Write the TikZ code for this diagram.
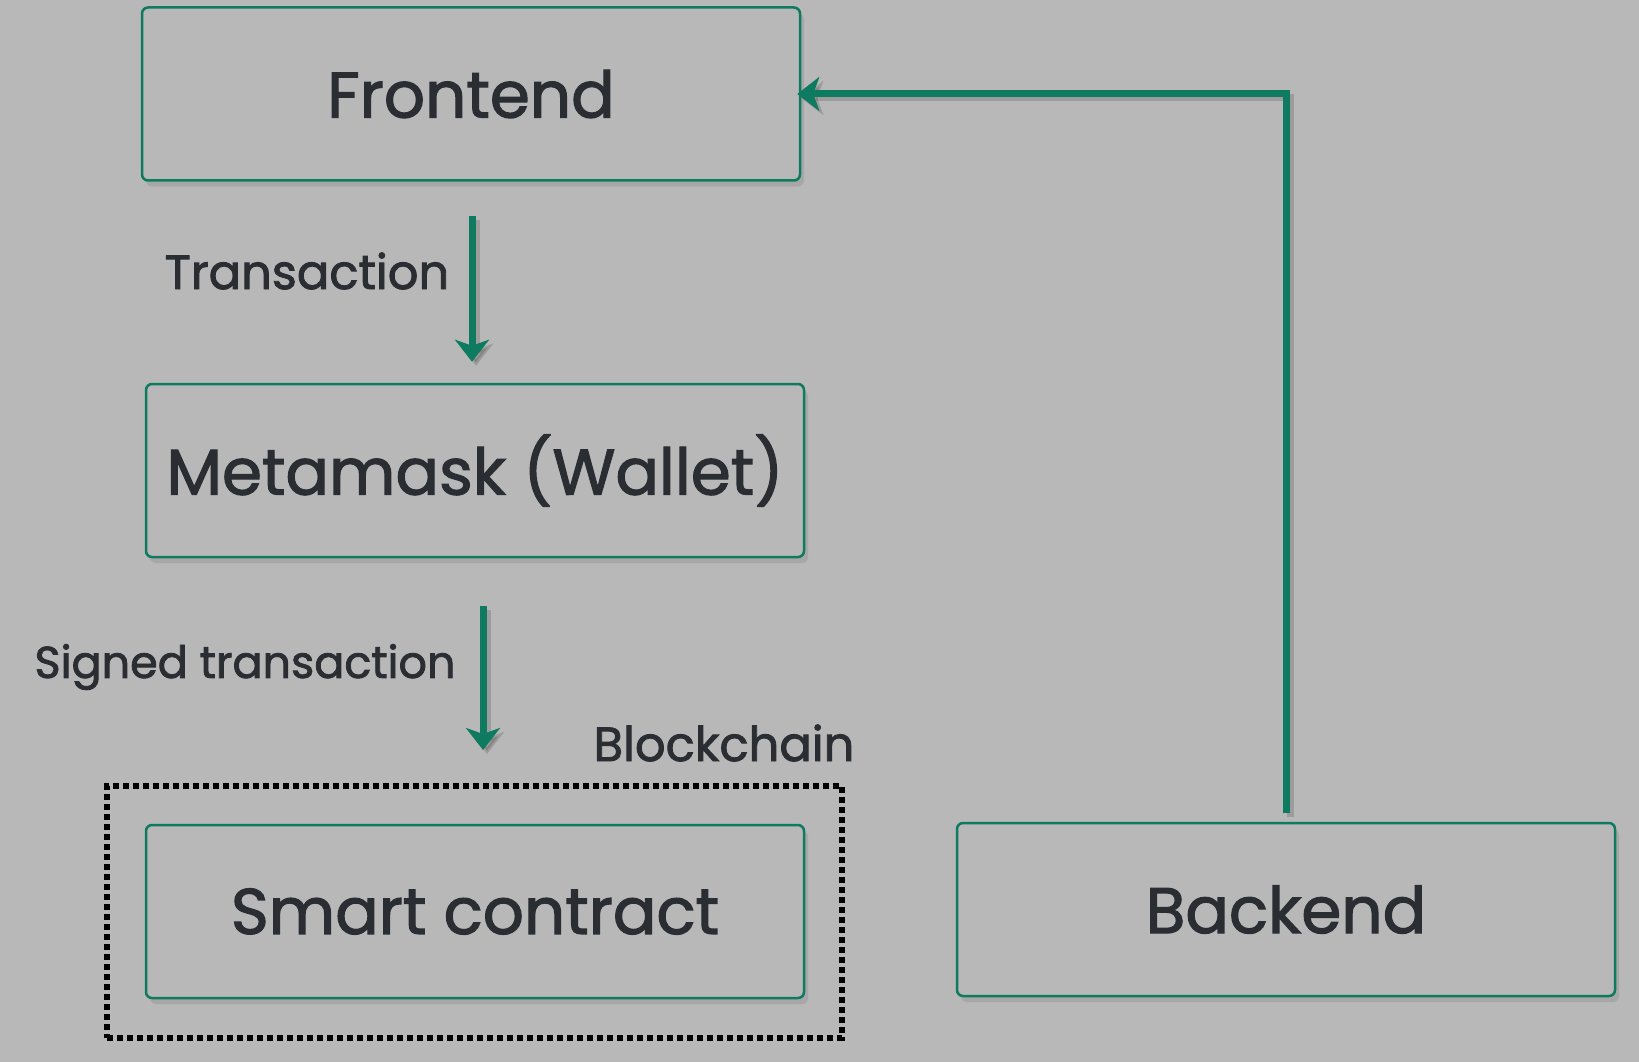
\documentclass[tikz,border=0pt]{standalone}
\usepackage{fontspec}
\setmainfont{Poppins}
\newfontfamily\medfont{Poppins}[FakeBold=1.8]
\usetikzlibrary{shadows,arrows.meta}
\definecolor{bgc}{HTML}{B8B8B8}
\definecolor{grn}{HTML}{0E7A60}
\definecolor{txt}{HTML}{2A2E33}
\begin{document}
\begin{tikzpicture}[x=1pt,y=-1pt,
  box/.style={draw=grn, line width=2.5pt, rounded corners=6pt, fill=bgc,
    minimum width=658pt, minimum height=173pt, inner sep=0pt,
    text=txt, font=\medfont\fontsize{64.5}{76}\selectfont,
    drop shadow={opacity=0.3, shadow xshift=4pt, shadow yshift=-6pt}},
  lbl/.style={text=txt, inner sep=0pt, font=\medfont\fontsize{48}{58}\selectfont},
  flow/.style={draw=grn, line width=7pt,
    -{Stealth[length=22pt, width=34pt, inset=6pt]},
    preaction={draw=black, opacity=0.15, line width=7pt, transform canvas={xshift=4pt, yshift=-4pt}}},
  chainbox/.style={draw=black, line width=6pt, dash pattern=on 6pt off 4pt,
    minimum width=735pt, minimum height=252pt, inner sep=0pt}
]
\fill[bgc] (0,0) rectangle (1639,1062);
\useasboundingbox (0,0) rectangle (1639,1062);

\node[chainbox] (chain) at (474.5,912) {};
\node[box] (front) at (471,94) {Frontend};
\node[box] (meta) at (475,470.5) {Metamask (Wallet)};
\node[box] (smart) at (475,911.5) {Smart contract};
\node[box] (back) at (1286,909.5) {Backend};

\node[lbl] (tlabel) at (307,271) {Transaction};
\node[lbl, font=\medfont\fontsize{44.5}{54}\selectfont] (slabel) at (245,667) {Signed transaction};
\node[lbl] (blabel) at (724,743) {Blockchain};

\draw[flow, shorten <=34pt, shorten >=21pt] ([xshift=1pt]front.south) -- ([xshift=1pt]front.south |- meta.north);
\draw[flow, shorten <=48pt, shorten >=33pt] ([xshift=8pt]meta.south) -- ([xshift=8pt]meta.south |- chain.north);
\draw[flow, shorten <=9pt, shorten >=-4pt] (back.north) |- (front.east);
\end{tikzpicture}
\end{document}
